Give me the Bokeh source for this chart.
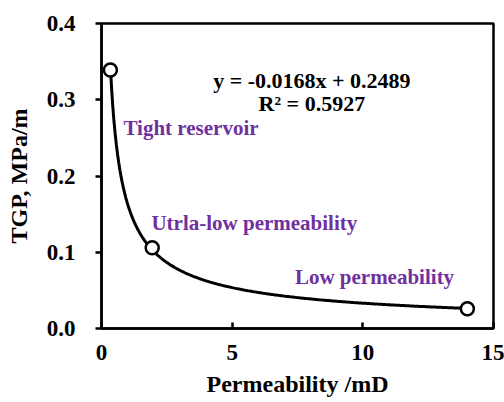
import numpy as np
from bokeh.plotting import figure
from bokeh.models import Range1d, FixedTicker, NumeralTickFormatter
from bokeh.core.properties import value
from bokeh.embed import file_html
from bokeh.resources import INLINE

# Measured points: permeability (mD) vs threshold pressure gradient (MPa/m)
permeability = [0.34, 1.94, 14.0]
tgp = [0.339, 0.106, 0.026]

x_ticks = [0, 5, 10, 15]
y_ticks = [0.0, 0.1, 0.2, 0.3, 0.4]

region_labels = ["Tight reservoir", "Utrla-low permeability", "Low permeability"]
region_x = [0.84, 1.91, 7.4]
region_y = [0.263, 0.138, 0.067]

equation_lines = ["y = -0.0168x + 0.2489", "R\u00b2 = 0.5927"]
equation_x = [8.05, 8.05]
equation_y = [0.325, 0.295]

FONT = "Liberation Serif"
PURPLE = "#7030A0"

# Smooth decay curve through the measured points (power law fitted in log space)
b, ln_a = np.polyfit(np.log(permeability), np.log(tgp), 1)
curve_x = np.linspace(min(permeability), max(permeability), 300)
curve_y = np.exp(ln_a) * curve_x ** b

p = figure(width=504, height=402, output_backend="svg", toolbar_location=None,
           x_range=Range1d(0, 15), y_range=Range1d(0, 0.4),
           min_border_left=101, min_border_right=11, min_border_top=23,
           min_border_bottom=74)
p.background_fill_color = "white"
p.border_fill_color = "white"
p.outline_line_color = "black"
p.outline_line_width = 2.5
p.xgrid.visible = False
p.ygrid.visible = False

p.line(curve_x, curve_y, line_color="black", line_width=3)
p.scatter(permeability, tgp, size=13, marker="circle", fill_color="white",
          line_color="black", line_width=2.5)

p.text(x=region_x, y=region_y, text=region_labels, text_font=value(FONT),
       text_font_style="bold", text_font_size="21px", text_color=PURPLE,
       text_baseline="middle", text_align="left")

p.text(x=equation_x, y=equation_y, text=equation_lines, text_font=value(FONT),
       text_font_style="bold", text_font_size="22px", text_color="black",
       text_baseline="middle", text_align="center")

for ax in (p.xaxis[0], p.yaxis[0]):
    ax.axis_line_width = 2.5
    ax.axis_line_color = "black"
    ax.major_tick_line_width = 2.5
    ax.major_tick_line_color = "black"
    ax.minor_tick_line_color = None
    ax.major_label_text_font = FONT
    ax.major_label_text_font_style = "bold"
    ax.major_label_text_font_size = "23px"
    ax.major_label_text_color = "black"
    ax.axis_label_text_font = FONT
    ax.axis_label_text_font_style = "bold"
    ax.axis_label_text_font_size = "24px"
    ax.axis_label_text_color = "black"

p.xaxis.ticker = FixedTicker(ticks=x_ticks)
p.xaxis.major_tick_in = 6
p.xaxis.major_tick_out = 0
p.xaxis.major_label_standoff = 16
p.xaxis.axis_label = "Permeability /mD"
p.xaxis.axis_label_standoff = 8

p.yaxis.ticker = FixedTicker(ticks=y_ticks)
p.yaxis.formatter = NumeralTickFormatter(format="0.0")
p.yaxis.major_tick_in = 0
p.yaxis.major_tick_out = 6
p.yaxis.major_label_standoff = 20
p.yaxis.axis_label = "TGP, MPa/m"
p.yaxis.axis_label_standoff = 12

open("out.html", "w").write(file_html(p, INLINE))
